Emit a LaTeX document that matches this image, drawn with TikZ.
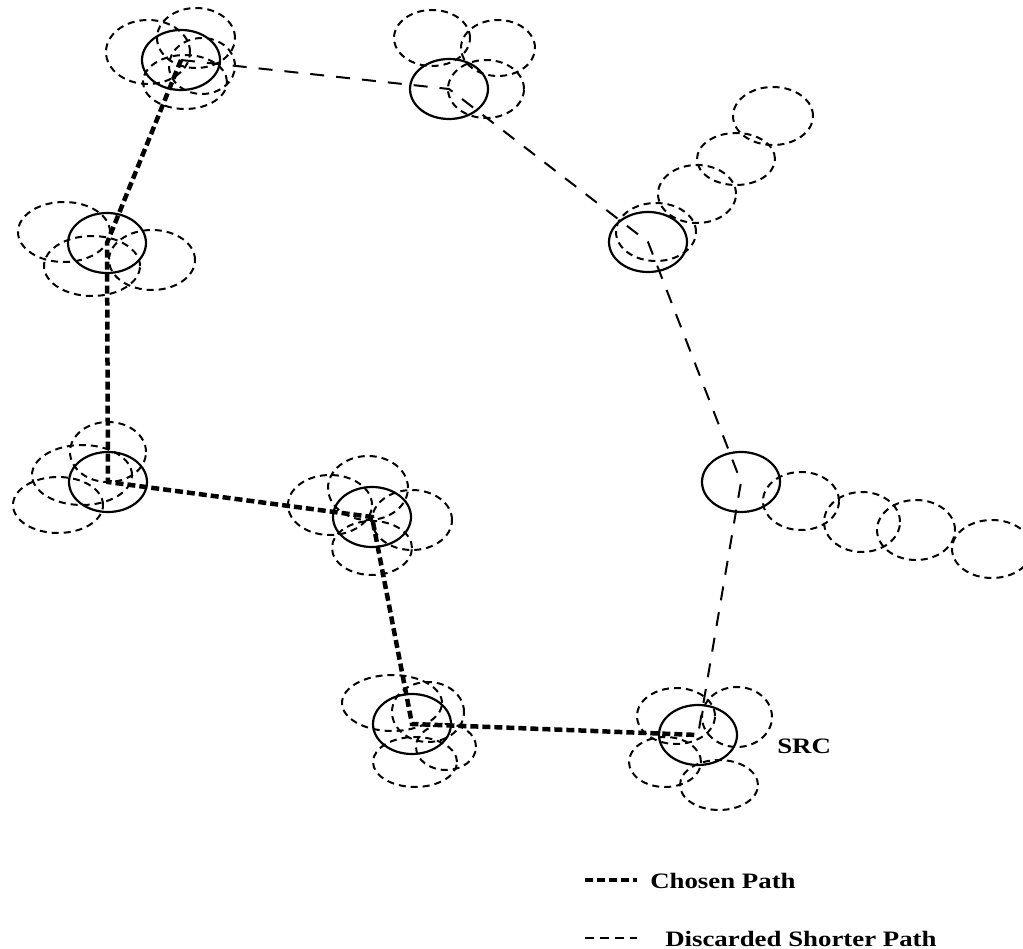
\documentclass[tikz,border=0pt]{standalone}
\usepackage{fontspec}
\setmainfont{Liberation Serif}
\usetikzlibrary{shapes.geometric}
\begin{document}
\begin{tikzpicture}[x=1pt,y=-1pt,
  station/.style={draw,ellipse,line width=2.2pt,inner sep=0pt,
    minimum width=78pt,minimum height=60pt},
  ring/.style={line width=2pt,dash pattern=on 7pt off 5pt},
  chosen/.style={line width=4.5pt,dash pattern=on 8pt off 4pt},
  discarded/.style={line width=2pt,dash pattern=on 14pt off 12pt},
  label/.style={font=\fontsize{22}{24}\selectfont\bfseries,inner sep=0pt,
    xscale=1.22,transform shape}]
\useasboundingbox (0,0) rectangle (1023,949);

% stations along the two routes
\node[station] (a) at (181,60) {};
\node[station] (b) at (107,243) {};
\node[station] (c) at (108,482) {};
\node[station] (d) at (372,517) {};
\node[station] (e) at (412,724) {};
\node[station] (src) at (698,735) {};
\node[station] (g) at (741,482) {};
\node[station] (h) at (648,242) {};
\node[station] (i) at (449,89) {};

% transmission ranges around each station
\draw[ring] (196,38) ellipse [x radius=39pt,y radius=30pt];
\draw[ring] (148,52) ellipse [x radius=42pt,y radius=32pt];
\draw[ring] (185,82) ellipse [x radius=42pt,y radius=27pt];
\draw[ring] (202,66) ellipse [x radius=33pt,y radius=28pt];

\draw[ring] (64,232) ellipse [x radius=46pt,y radius=30pt];
\draw[ring] (92,266) ellipse [x radius=48pt,y radius=30pt];
\draw[ring] (152,260) ellipse [x radius=43pt,y radius=30pt];

\draw[ring] (108,452) ellipse [x radius=38pt,y radius=30pt];
\draw[ring] (58,505) ellipse [x radius=45pt,y radius=28pt];
\draw[ring] (82,475) ellipse [x radius=50pt,y radius=30pt];

\draw[ring] (368,488) ellipse [x radius=40pt,y radius=32pt];
\draw[ring] (330,505) ellipse [x radius=42pt,y radius=30pt];
\draw[ring] (412,520) ellipse [x radius=40pt,y radius=30pt];
\draw[ring] (372,548) ellipse [x radius=40pt,y radius=27pt];

\draw[ring] (392,703) ellipse [x radius=50pt,y radius=28pt];
\draw[ring] (428,712) ellipse [x radius=36pt,y radius=30pt];
\draw[ring] (415,762) ellipse [x radius=42pt,y radius=25pt];
\draw[ring] (446,747) ellipse [x radius=30pt,y radius=23pt];

\draw[ring] (676,716) ellipse [x radius=39pt,y radius=28pt];
\draw[ring] (737,717) ellipse [x radius=35pt,y radius=30pt];
\draw[ring] (665,762) ellipse [x radius=36pt,y radius=25pt];
\draw[ring] (719,785) ellipse [x radius=39pt,y radius=25pt];

\draw[ring] (801,501) ellipse [x radius=38pt,y radius=29pt];
\draw[ring] (862,522) ellipse [x radius=38pt,y radius=30pt];
\draw[ring] (916,530) ellipse [x radius=39pt,y radius=30pt];
\draw[ring] (992,549) ellipse [x radius=40pt,y radius=29pt];

\draw[ring] (656,232) ellipse [x radius=40pt,y radius=29pt];
\draw[ring] (697,194) ellipse [x radius=39pt,y radius=29pt];
\draw[ring] (736,159) ellipse [x radius=39pt,y radius=26pt];
\draw[ring] (773,116) ellipse [x radius=40pt,y radius=29pt];

\draw[ring] (432,38) ellipse [x radius=38pt,y radius=28pt];
\draw[ring] (498,48) ellipse [x radius=37pt,y radius=28pt];
\draw[ring] (486,89) ellipse [x radius=38pt,y radius=29pt];

% routes
\draw[chosen] (a.center) -- (b.center) -- (c.center) -- (d.center)
  -- (e.center) -- (src.center);
\draw[discarded] (a.center) -- (i.center) -- (h.center) -- (g.center)
  -- (src.center);

\node[label,anchor=base west] (srclabel) at (777,753) {SRC};

% legend
\coordinate (k1) at (585,880);
\coordinate (k2) at (637,880);
\coordinate (k3) at (585,938);
\coordinate (k4) at (637,938);
\draw[chosen] (k1) -- (k2);
\draw[discarded,dash pattern=on 9pt off 6pt] (k3) -- (k4);
\node[label,anchor=base west] (leg1) at (650,888) {Chosen Path};
\node[label,anchor=base west] (leg2) at (665,946) {Discarded Shorter Path};
\end{tikzpicture}
\end{document}
